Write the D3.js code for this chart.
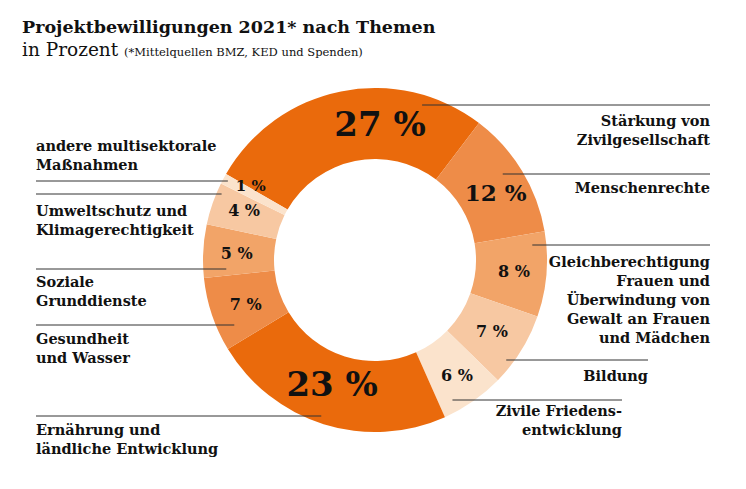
<!DOCTYPE html>
<html>
<head>
<meta charset="utf-8">
<script src="https://cdn.jsdelivr.net/npm/d3@7"></script>
<style>
  body { margin: 0; background: #fff; }
  svg { display: block; font-family: "DejaVu Serif", serif; }
</style>
</head>
<body>
<svg id="chart"></svg>
<script>
// data, clockwise from top-left
const themen = [
    ["Stärkung von", "Zivilgesellschaft"],
    ["Menschenrechte"],
    ["Gleichberechtigung", "Frauen und", "Überwindung von", "Gewalt an Frauen", "und Mädchen"],
    ["Bildung"],
    ["Zivile Friedens-", "entwicklung"],
    ["Ernährung und", "ländliche Entwicklung"],
    ["Gesundheit", "und Wasser"],
    ["Soziale", "Grunddienste"],
    ["Umweltschutz und", "Klimagerechtigkeit"],
    ["andere multisektorale", "Maßnahmen"]
];
const prozent = [27, 12, 8, 7, 6, 23, 7, 5, 4, 1];
const farben = ["#ea6a0c", "#ee8c48", "#f2a468", "#f7c8a2", "#fbe3cc",
                "#ea6a0c", "#ee8c48", "#f2a468", "#f7c8a2", "#fbe3cc"];

// layout of the callouts (leader y, radius where the leader starts, text block)
const callouts = [
    { side: "r", lineY: 105, r: 162, textX: 710, textY: 126, lineEnd: 710 },
    { side: "r", lineY: 174, r: 154, textX: 710, textY: 193, lineEnd: 710 },
    { side: "r", lineY: 245, r: 158, textX: 710, textY: 267, lineEnd: 710 },
    { side: "r", lineY: 360, r: 165, textX: 648, textY: 381, lineEnd: 648 },
    { side: "r", lineY: 400, r: 160, textX: 622, textY: 416, lineEnd: 622 },
    { side: "l", lineY: 416, r: 165, textX: 36, textY: 435, lineEnd: 36 },
    { side: "l", lineY: 325, r: 155, textX: 36, textY: 344, lineEnd: 36 },
    { side: "l", lineY: 269, r: 149, textX: 36, textY: 287, lineEnd: 36 },
    { side: "l", lineY: 194, r: 167, textX: 36, textY: 216, lineEnd: 36 },
    { side: "l", lineY: 181, r: 167, textX: 36, textY: 151, lineEnd: 36 }
];
const labelSize = [34, 23, 16, 16, 16, 34, 16, 16, 16, 15];
const labelNudge = [[32, 10], [4, 12], [3, 6], [1, 5], [4, 9], [-2, 6], [0, 6], [-2, 6], [-2, 1], [-4, -4]];

const width = 746, height = 489;
const cx = 375, cy = 260;
const outerR = 172, innerR = 101;

const svg = d3.select("#chart").attr("width", width).attr("height", height);

// title
svg.append("text")
    .attr("x", 22).attr("y", 33)
    .attr("font-size", 17.5).attr("font-weight", "bold").attr("fill", "#111")
    .text("Projektbewilligungen 2021* nach Themen");

const sub = svg.append("text")
    .attr("x", 22).attr("y", 56)
    .attr("font-size", 18.5).attr("fill", "#111");
sub.append("tspan").text("in Prozent ");
sub.append("tspan").attr("font-size", 11.5).text("(*Mittelquellen BMZ, KED und Spenden)");

const pie = d3.pie()
    .sort(null)
    .startAngle(-Math.PI / 3)
    .endAngle(-Math.PI / 3 + 2 * Math.PI);

const arc = d3.arc().innerRadius(innerR).outerRadius(outerR);
const arcs = pie(prozent);

const donut = svg.append("g").attr("transform", `translate(${cx}, ${cy})`);

donut.selectAll("path")
    .data(arcs)
    .join("path")
    .attr("d", arc)
    .attr("fill", (d, i) => farben[i]);

donut.selectAll(".pct")
    .data(arcs)
    .join("text")
    .attr("class", "pct")
    .attr("text-anchor", "middle")
    .attr("font-weight", "bold")
    .attr("fill", "#111")
    .attr("font-size", (d, i) => labelSize[i])
    .attr("transform", (d, i) => {
        const [x, y] = arc.centroid(d);
        return `translate(${x + labelNudge[i][0]}, ${y + labelNudge[i][1]})`;
    })
    .text(d => d.data + " %");

// leader lines
svg.selectAll(".leader")
    .data(callouts)
    .join("line")
    .attr("class", "leader")
    .attr("stroke", "#333")
    .attr("stroke-width", 1)
    .attr("x1", c => {
        const dy = c.lineY - cy;
        const dx = Math.sqrt(Math.max(0, c.r * c.r - dy * dy));
        return c.side === "r" ? cx + dx : cx - dx;
    })
    .attr("x2", c => c.lineEnd)
    .attr("y1", c => c.lineY)
    .attr("y2", c => c.lineY);

// theme names
const names = svg.selectAll(".name")
    .data(callouts)
    .join("text")
    .attr("class", "name")
    .attr("font-size", 14.5)
    .attr("font-weight", "bold")
    .attr("fill", "#111")
    .attr("text-anchor", c => c.side === "r" ? "end" : "start")
    .attr("x", c => c.textX)
    .attr("y", c => c.textY);

names.selectAll("tspan")
    .data((c, i) => themen[i].map(t => ({ t, x: c.textX })))
    .join("tspan")
    .attr("x", d => d.x)
    .attr("dy", (d, j) => j === 0 ? 0 : 19)
    .text(d => d.t);
</script>
</body>
</html>
